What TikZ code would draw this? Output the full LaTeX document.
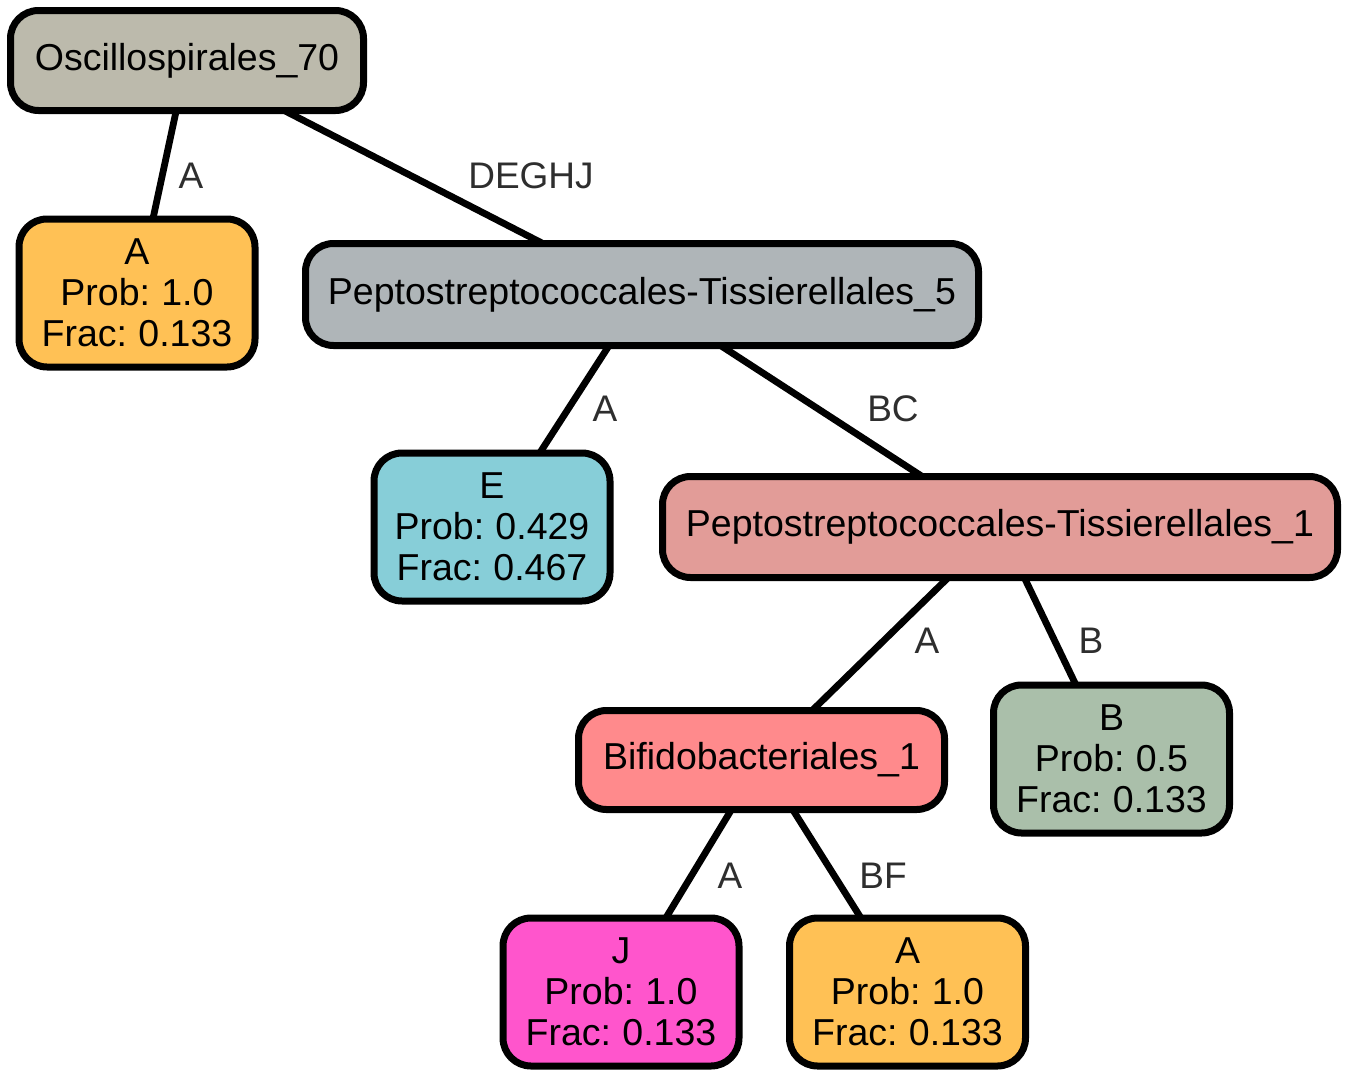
\documentclass[tikz,border=0pt]{standalone}
\usepackage{fontspec}
\setmainfont[WordSpace=0.75]{Liberation Sans}
\definecolor{cosc}{HTML}{BCBAAC}
\definecolor{corange}{HTML}{FFC155}
\definecolor{cpt5}{HTML}{AFB5B8}
\definecolor{ce}{HTML}{87CED8}
\definecolor{cpt1}{HTML}{E29C98}
\definecolor{cbif}{HTML}{FF8A8C}
\definecolor{cb}{HTML}{AABFAA}
\definecolor{cj}{HTML}{FF55CC}
\definecolor{clab}{HTML}{2E2E2E}
\tikzset{
  box/.style={draw=black, line width=7pt, rounded corners=28pt, inner sep=0pt, align=center,
    font=\fontsize{37.5}{41}\selectfont},
  inner/.style={box, minimum height=100pt},
  leaf/.style={box, minimum width=236pt, minimum height=148pt},
  edge/.style={draw=black, line width=6.8pt},
  elab/.style={text=clab, inner sep=0pt, font=\fontsize{37}{41}\selectfont}
}
\begin{document}
\begin{tikzpicture}[x=1pt,y=-1pt]
\useasboundingbox (0,0) rectangle (1350,1079);
% edges first
\coordinate (osc) at (187,60.5);
\coordinate (a1) at (137,293);
\coordinate (pt5) at (642,294.5);
\coordinate (e) at (492,527);
\coordinate (pt1) at (1000,527);
\coordinate (bif) at (761.5,760);
\coordinate (b) at (1111.5,759);
\coordinate (j) at (621,992);
\coordinate (a2) at (907.5,992);
\draw[edge] (osc) -- (a1);
\draw[edge] (osc) -- (pt5);
\draw[edge] (pt5) -- (e);
\draw[edge] (pt5) -- (pt1);
\draw[edge] (pt1) -- (bif);
\draw[edge] (pt1) -- (b);
\draw[edge] (bif) -- (j);
\draw[edge] (bif) -- (a2);
% nodes
\node[inner, fill=cosc, minimum width=353pt] (nosc) at (osc) {Oscillospirales\_70};
\node[leaf, fill=corange] (na1) at (a1) {A\\Prob: 1.0\\Frac: 0.133};
\node[inner, fill=cpt5, minimum width=673pt, minimum height=102pt] (npt5) at (pt5) {Peptostreptococcales-Tissierellales\_5};
\node[leaf, fill=ce] (ne) at (e) {E\\Prob: 0.429\\Frac: 0.467};
\node[inner, fill=cpt1, minimum width=675pt, minimum height=101pt] (npt1) at (pt1) {Peptostreptococcales-Tissierellales\_1};
\node[inner, fill=cbif, minimum width=366pt, minimum height=99pt] (nbif) at (bif) {Bifidobacteriales\_1};
\node[leaf, fill=cb] (nb) at (b) {B\\Prob: 0.5\\Frac: 0.133};
\node[leaf, fill=cj] (nj) at (j) {J\\Prob: 1.0\\Frac: 0.133};
\node[leaf, fill=corange] (na2) at (a2) {A\\Prob: 1.0\\Frac: 0.133};
% edge labels
\node[elab] (l1) at (191,176) {A};
\node[elab] (l2) at (531,176) {DEGHJ};
\node[elab] (l3) at (605,409) {A};
\node[elab] (l4) at (893,409) {BC};
\node[elab] (l5) at (927,641) {A};
\node[elab] (l6) at (1091,641) {B};
\node[elab] (l7) at (730,876) {A};
\node[elab] (l8) at (883,876) {BF};
\end{tikzpicture}
\end{document}
